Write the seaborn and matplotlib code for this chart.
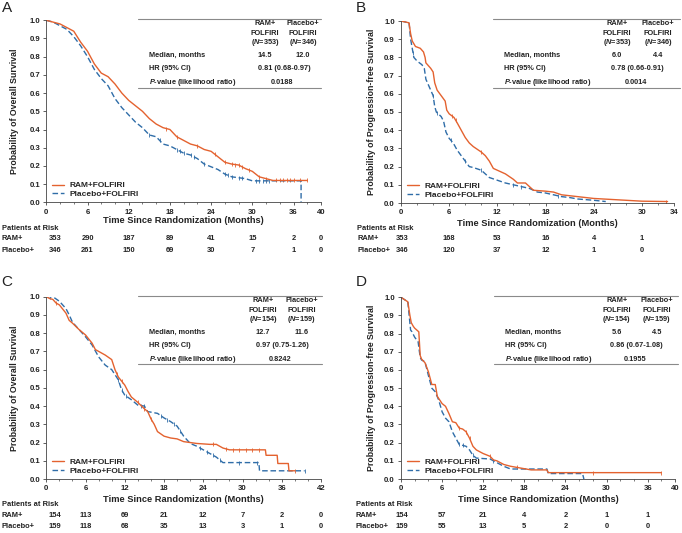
import matplotlib

matplotlib.use("Agg")
import matplotlib.pyplot as plt
from matplotlib.transforms import blended_transform_factory
import numpy as np
import seaborn as sns

sns.set_theme(style="ticks")
plt.rcParams["font.family"] = ["Liberation Sans", "DejaVu Sans"]
plt.rcParams["font.weight"] = "bold"
plt.rcParams["mathtext.fontset"] = "custom"
plt.rcParams["mathtext.rm"] = "Liberation Sans:bold"
plt.rcParams["mathtext.it"] = "Liberation Sans:italic:bold"

W, H = 682, 533
RAM_COLOR = "#E4622F"
PBO_COLOR = "#2F6DA8"
TEXT_COLOR = "#222222"

# ---------------- data ----------------
# Panel A: overall survival, ITT
a_ram_t = [0, 2, 3, 4, 5, 6, 7, 8, 9, 10, 11, 12, 13, 14, 15, 16, 17, 18, 19, 20, 21, 22, 23, 24,
           25, 26, 27, 28, 29, 30, 31, 33, 38]
a_ram_s = [1.0, 0.98, 0.96, 0.94, 0.88, 0.83, 0.76, 0.71, 0.69, 0.65, 0.60, 0.56, 0.53, 0.50, 0.46,
           0.43, 0.41, 0.40, 0.36, 0.34, 0.32, 0.31, 0.29, 0.28, 0.25, 0.22, 0.21, 0.205, 0.185, 0.17,
           0.14, 0.12, 0.12]
a_ram_cens = [17.5, 19, 22, 24.5, 26, 27, 27.5, 28, 28.5, 29.5, 31, 32, 33.5, 34, 34.5, 35, 35.5, 36, 37, 38]
a_pbo_t = [0, 1, 2, 3, 4, 5, 6, 7, 8, 9, 10, 11, 12, 13, 14, 15, 16, 17, 18, 19, 20, 21, 22, 23, 24,
           25, 26, 27, 29, 30, 37.1, 37.1]
a_pbo_s = [1.0, 0.99, 0.97, 0.95, 0.91, 0.86, 0.80, 0.73, 0.68, 0.64, 0.57, 0.52, 0.48, 0.44, 0.41,
           0.37, 0.36, 0.32, 0.31, 0.29, 0.27, 0.26, 0.24, 0.21, 0.195, 0.18, 0.155, 0.14, 0.13, 0.118,
           0.118, 0.0]
a_pbo_cens = [15, 16.5, 19, 19.5, 20, 21, 21.5, 23, 26, 26.5, 27, 28, 28.5, 30.5, 31, 31.5, 32, 32.5]

# Panel B: progression-free survival, ITT
b_ram_t = [0, 1.0, 1.2, 1.4, 1.8, 2.4, 2.8, 3.0, 3.1, 3.7, 4.0, 4.2, 4.5, 5.5, 5.7, 6.0, 6.6, 7.0,
           7.5, 8.0, 8.5, 9.0, 10.0, 10.5, 11.0, 11.5, 12.0, 13.0, 14.0, 14.5, 15.5, 16.0, 16.5, 18.0,
           19.0, 20.0, 22.0, 23.0, 24.0, 26.0, 28.0, 30.0, 33.2]
b_ram_s = [1.0, 0.99, 0.93, 0.89, 0.86, 0.85, 0.83, 0.80, 0.77, 0.74, 0.72, 0.66, 0.62, 0.56, 0.51,
           0.49, 0.47, 0.44, 0.40, 0.36, 0.33, 0.31, 0.28, 0.26, 0.23, 0.19, 0.18, 0.16, 0.13, 0.11,
           0.11, 0.09, 0.07, 0.065, 0.06, 0.045, 0.035, 0.03, 0.025, 0.02, 0.015, 0.01, 0.008]
b_ram_cens = [6.3, 6.8, 10, 33]
b_pbo_t = [0, 1.0, 1.2, 1.4, 1.6, 2.0, 2.6, 2.9, 3.1, 3.5, 4.0, 4.2, 4.4, 5.0, 5.3, 5.6, 6.0, 6.5,
           7.0, 7.5, 8.0, 8.5, 9.0, 10.0, 10.5, 11.0, 12.0, 13.0, 14.0, 15.0, 16.0, 17.0, 18.0, 19.0,
           20.0, 21.0, 22.0, 24.0, 25.5]
b_pbo_s = [1.0, 0.99, 0.90, 0.85, 0.80, 0.78, 0.76, 0.74, 0.68, 0.64, 0.59, 0.53, 0.50, 0.475, 0.45,
           0.39, 0.355, 0.33, 0.29, 0.26, 0.23, 0.20, 0.195, 0.18, 0.16, 0.14, 0.125, 0.11, 0.10, 0.09,
           0.08, 0.06, 0.055, 0.045, 0.035, 0.03, 0.022, 0.015, 0.008]
b_pbo_cens = [1.5, 4, 4.5, 6.2, 8, 10, 14, 15, 19.5]

# Panel C: overall survival, subgroup
c_ram_t = [0, 0.5, 1, 1.5, 2, 3, 3.5, 4, 5, 6, 7, 7.5, 8, 9, 10, 10.5, 11, 12, 12.5, 13, 14, 15,
           15.5, 16, 16.5, 17, 18, 19, 20, 21, 22, 23, 25, 26, 27, 28, 33.5, 33.6, 35.3, 35.4, 37,
           37.1, 38]
c_ram_s = [1.0, 0.99, 0.985, 0.965, 0.955, 0.91, 0.87, 0.855, 0.82, 0.79, 0.745, 0.71, 0.70, 0.68,
           0.655, 0.60, 0.56, 0.515, 0.48, 0.45, 0.42, 0.385, 0.37, 0.33, 0.30, 0.26, 0.235, 0.225,
           0.22, 0.205, 0.20, 0.195, 0.19, 0.19, 0.17, 0.16, 0.16, 0.13, 0.13, 0.085, 0.085, 0.045,
           0.045]
c_ram_cens = [1.5, 10.8, 11.5, 14, 15, 16, 25.5, 27.5, 28.5, 29.5, 30.5, 31.5, 32.5, 38]
c_pbo_t = [0, 1, 2, 3, 3.5, 4, 5, 6, 7, 8, 9, 10, 11, 11.5, 12, 13, 14, 15, 15.5, 17, 18, 19, 20,
           21, 22, 23, 25, 26, 27, 32.5, 32.6, 39.5]
c_pbo_s = [1.0, 1.0, 0.975, 0.935, 0.90, 0.86, 0.82, 0.78, 0.735, 0.67, 0.625, 0.60, 0.545, 0.49,
           0.46, 0.435, 0.405, 0.40, 0.37, 0.36, 0.335, 0.315, 0.29, 0.235, 0.195, 0.18, 0.14, 0.12,
           0.09, 0.09, 0.045, 0.045]
c_pbo_cens = [0.5, 11, 11.5, 12.2, 14.5, 15, 17.5, 18.5, 19.5, 20.5, 23.5, 24.5, 25.5, 26.5, 29.5,
              32.2, 39.5]

# Panel D: progression-free survival, subgroup
d_ram_t = [0, 1, 1.3, 1.5, 1.8, 2.0, 2.6, 2.8, 3.0, 3.5, 4.0, 4.5, 5.0, 5.3, 6.0, 6.5, 7.0, 7.5,
           8.0, 8.5, 9.0, 9.5, 10.0, 10.5, 11.0, 12.0, 13.0, 13.5, 14.0, 15.0, 16.0, 19.0, 21.3,
           21.5, 38.0]
d_ram_s = [1.0, 0.975, 0.90, 0.86, 0.84, 0.83, 0.81, 0.68, 0.66, 0.64, 0.59, 0.52, 0.52, 0.455,
           0.415, 0.40, 0.36, 0.315, 0.31, 0.28, 0.275, 0.26, 0.225, 0.18, 0.16, 0.14, 0.125, 0.105,
           0.10, 0.08, 0.07, 0.05, 0.05, 0.035, 0.035]
d_ram_cens = [8.5, 9.5, 10, 13, 17, 28, 38]
d_pbo_t = [0, 1, 1.4, 1.6, 2.0, 2.5, 2.8, 3.0, 3.5, 4.0, 4.5, 5.0, 5.5, 6.0, 6.5, 7.0, 7.5, 8.0,
           8.5, 9.5, 10.0, 10.5, 11.0, 13.0, 14.0, 15.0, 16.0, 21.3, 21.5, 26.5, 26.7]
d_pbo_s = [1.0, 0.975, 0.82, 0.81, 0.78, 0.755, 0.67, 0.655, 0.645, 0.57, 0.50, 0.48, 0.435, 0.37,
           0.335, 0.315, 0.26, 0.225, 0.19, 0.18, 0.16, 0.13, 0.115, 0.11, 0.09, 0.07, 0.055, 0.055,
           0.03, 0.03, 0.0]
d_pbo_cens = [8.5, 9, 10.5, 13.5]

# summary tables
a_stats = ["353", "346", "14.5", "12.0", "0.81 (0.68-0.97)", "0.0188"]
b_stats = ["353", "346", "6.0", "4.4", "0.78 (0.66-0.91)", "0.0014"]
c_stats = ["154", "159", "12.7", "11.6", "0.97 (0.75-1.26)", "0.8242"]
d_stats = ["154", "159", "5.6", "4.5", "0.86 (0.67-1.08)", "0.1955"]

# patients at risk
a_risk_t = [0, 6, 12, 18, 24, 30, 36, 40]
a_risk_ram = [353, 290, 187, 89, 41, 15, 2, 0]
a_risk_pbo = [346, 261, 150, 69, 30, 7, 1, 0]
b_risk_t = [0, 6, 12, 18, 24, 30]
b_risk_ram = [353, 168, 53, 16, 4, 1]
b_risk_pbo = [346, 120, 37, 12, 1, 0]
c_risk_t = [0, 6, 12, 18, 24, 30, 36, 42]
c_risk_ram = [154, 113, 69, 21, 12, 7, 2, 0]
c_risk_pbo = [159, 118, 68, 35, 13, 3, 1, 0]
d_risk_t = [0, 6, 12, 18, 24, 30, 36]
d_risk_ram = [154, 57, 21, 4, 2, 1, 1]
d_risk_pbo = [159, 55, 13, 5, 2, 0, 0]

FS_TICK = 5.6
FS_TABLE = 5.3
FS_RISK = 5.4


def fx(px):
    return px / W


def fy(py):
    return 1 - py / H


def draw_panel(fig, p):
    """One Kaplan-Meier panel with its summary table and risk table"""
    left, top, right, bottom = p["box"]
    ax = fig.add_axes([fx(left), fy(bottom), fx(right - left), (bottom - top) / H])

    # curves: placebo first so RAM sits on top
    for t, s, cens, color, ls, label in [
        (p["pbo_t"], p["pbo_s"], p["pbo_cens"], PBO_COLOR, (0, (4, 2)), "Placebo+FOLFIRI"),
        (p["ram_t"], p["ram_s"], p["ram_cens"], RAM_COLOR, "-", "RAM+FOLFIRI"),
    ]:
        sns.lineplot(x=t, y=s, ax=ax, color=color, linestyle=ls, linewidth=1.0,
                     estimator=None, sort=False, label=label)
        cy = np.interp(cens, t, s)
        sns.scatterplot(x=cens, y=cy, ax=ax, marker="|", s=10, color=color,
                        linewidth=0.6, legend=False)

    ax.set_xlim(0, p["xmax"])
    ax.set_ylim(0, 1.0)
    ax.set_xticks(p["xticks"])
    ax.set_xticks(np.arange(0, p["xmax"] + 0.1, 2), minor=True)
    ax.set_yticks(np.arange(0, 1.01, 0.1))
    ax.set_yticklabels([f"{v:.1f}" for v in np.arange(0, 1.01, 0.1)])
    ax.tick_params(axis="both", which="major", labelsize=FS_TICK, length=2.5, width=0.6,
                   pad=2, colors="#444444", labelcolor=TEXT_COLOR)
    ax.tick_params(axis="x", which="minor", length=1.5, width=0.5, colors="#444444")
    for lab in ax.get_xticklabels() + ax.get_yticklabels():
        lab.set_fontweight("bold")
    sns.despine(ax=ax)
    for sp in ("left", "bottom"):
        ax.spines[sp].set_linewidth(0.6)
        ax.spines[sp].set_color("#444444")
    ax.set_xlabel("")
    ax.set_ylabel("")

    # legend (RAM listed first)
    handles, labels = ax.get_legend_handles_labels()
    ax.legend(handles[::-1], labels[::-1], loc="lower left", bbox_to_anchor=(0.005, 0.0),
              frameon=False, fontsize=6.0, handlelength=1.5, handletextpad=0.6,
              labelspacing=0.1, borderpad=0.3, borderaxespad=0.2)

    # axis titles placed in figure pixels
    fig.text(fx((left + right) / 2), fy(p["xlab_y"]), "Time Since Randomization (Months)",
             ha="center", va="center", fontsize=6.7, fontweight="bold", color=TEXT_COLOR)
    fig.text(fx(p["ylab_x"]), fy((top + bottom) / 2), p["ylabel"], rotation=90,
             ha="center", va="center", fontsize=6.3, fontweight="bold", color=TEXT_COLOR)
    fig.text(fx(p["letter"][0]), fy(p["letter"][1]), p["name"], ha="left", va="center",
             fontsize=11, fontweight="normal", color=TEXT_COLOR)

    # summary table
    tl, tr, tt = p["table"]
    c1, c2 = p["cols"]
    st = p["stats"]
    for yy in (tt, tt + 68.7):
        fig.add_artist(plt.Line2D([fx(tl), fx(tr)], [fy(yy), fy(yy)], color="#8a8a8a",
                                  linewidth=0.8, transform=fig.transFigure))
    kw = dict(ha="center", va="center", fontsize=FS_TABLE, fontweight="bold", color=TEXT_COLOR)
    for cx, n, arm in ((c1, st[0], "RAM+"), (c2, st[1], "Placebo+")):
        fig.text(fx(cx), fy(tt + 4.5), arm, **kw)
        fig.text(fx(cx), fy(tt + 14.5), "FOLFIRI", **kw)
        fig.text(fx(cx), fy(tt + 23.5), r"($\mathit{N}$=" + n + ")", **kw)
    fig.text(fx(c1), fy(tt + 36.3), st[2], **kw)
    fig.text(fx(c2), fy(tt + 36.3), st[3], **kw)
    fig.text(fx((c1 + c2) / 2), fy(tt + 49.5), st[4], **kw)
    fig.text(fx((c1 + c2) / 2 - 2), fy(tt + 64), st[5], **kw)
    lkw = dict(ha="left", va="center", fontsize=FS_TABLE, fontweight="bold", color=TEXT_COLOR)
    lx = tl + 11
    fig.text(fx(lx), fy(tt + 36.3), "Median, months", **lkw)
    fig.text(fx(lx), fy(tt + 49.5), "HR (95% CI)", **lkw)
    fig.text(fx(lx), fy(tt + 64), r"$\mathit{P}$-value (likelihood ratio)", **lkw)

    # patients at risk
    r0 = p["risk_y"]
    trans = blended_transform_factory(ax.transData, fig.transFigure)
    rkw = dict(ha="left", va="center", fontsize=FS_RISK, fontweight="bold", color=TEXT_COLOR)
    fig.text(fx(p["risk_x"]), fy(r0), "Patients at Risk", **rkw)
    fig.text(fx(p["risk_x"]), fy(r0 + 11), "RAM+", **rkw)
    fig.text(fx(p["risk_x"]), fy(r0 + 22), "Placebo+", **rkw)
    for i, (tm, nr, npb) in enumerate(zip(p["risk_t"], p["risk_ram"], p["risk_pbo"])):
        xpos = tm + (p["first_shift"] if i == 0 else 0)
        ax.text(xpos, fy(r0 + 11), str(nr), transform=trans, ha="center", va="center",
                fontsize=FS_RISK, fontweight="bold", color=TEXT_COLOR, clip_on=False)
        ax.text(xpos, fy(r0 + 22), str(npb), transform=trans, ha="center", va="center",
                fontsize=FS_RISK, fontweight="bold", color=TEXT_COLOR, clip_on=False)
    return ax


panels = [
    dict(name="A", box=(46.3, 20.3, 321, 202.3), xmax=40, xticks=[0, 6, 12, 18, 24, 30, 36, 40],
         ram_t=a_ram_t, ram_s=a_ram_s, ram_cens=a_ram_cens,
         pbo_t=a_pbo_t, pbo_s=a_pbo_s, pbo_cens=a_pbo_cens,
         ylabel="Probability of Overall Survival", ylab_x=15, xlab_y=221, letter=(1.5, 8),
         table=(138, 321, 19), cols=(265, 303), stats=a_stats,
         risk_y=228, risk_x=2, risk_t=a_risk_t, risk_ram=a_risk_ram, risk_pbo=a_risk_pbo,
         first_shift=1.3),
    dict(name="B", box=(401, 21, 674, 203), xmax=34, xticks=[0, 6, 12, 18, 24, 30, 34],
         ram_t=b_ram_t, ram_s=b_ram_s, ram_cens=b_ram_cens,
         pbo_t=b_pbo_t, pbo_s=b_pbo_s, pbo_cens=b_pbo_cens,
         ylabel="Probability of Progression-free Survival", ylab_x=372, xlab_y=223,
         letter=(356, 8), table=(493, 680, 19), cols=(617, 658), stats=b_stats,
         risk_y=228, risk_x=357, risk_t=b_risk_t, risk_ram=b_risk_ram, risk_pbo=b_risk_pbo,
         first_shift=0.1),
    dict(name="C", box=(46.3, 296.7, 321, 479), xmax=42, xticks=[0, 6, 12, 18, 24, 30, 36, 42],
         ram_t=c_ram_t, ram_s=c_ram_s, ram_cens=c_ram_cens,
         pbo_t=c_pbo_t, pbo_s=c_pbo_s, pbo_cens=c_pbo_cens,
         ylabel="Probability of Overall Survival", ylab_x=15, xlab_y=499, letter=(1.5, 282),
         table=(138, 321.5, 295.7), cols=(263, 301.7), stats=c_stats,
         risk_y=504.5, risk_x=2, risk_t=c_risk_t, risk_ram=c_risk_ram, risk_pbo=c_risk_pbo,
         first_shift=1.3),
    dict(name="D", box=(401, 297.3, 675, 479), xmax=40, xticks=[0, 6, 12, 18, 24, 30, 36, 40],
         ram_t=d_ram_t, ram_s=d_ram_s, ram_cens=d_ram_cens,
         pbo_t=d_pbo_t, pbo_s=d_pbo_s, pbo_cens=d_pbo_cens,
         ylabel="Probability of Progression-free Survival", ylab_x=372, xlab_y=499,
         letter=(356, 282), table=(494, 678, 295.7), cols=(616.7, 656.7), stats=d_stats,
         risk_y=504.5, risk_x=356, risk_t=d_risk_t, risk_ram=d_risk_ram, risk_pbo=d_risk_pbo,
         first_shift=0.1),
]

if __name__ == "__main__":
    fig = plt.figure(figsize=(W / 100, H / 100), dpi=100)
    fig.patch.set_facecolor("white")
    for p in panels:
        draw_panel(fig, p)
    fig.savefig("out.png", dpi=100)
    plt.close(fig)
    print("saved out.png")
